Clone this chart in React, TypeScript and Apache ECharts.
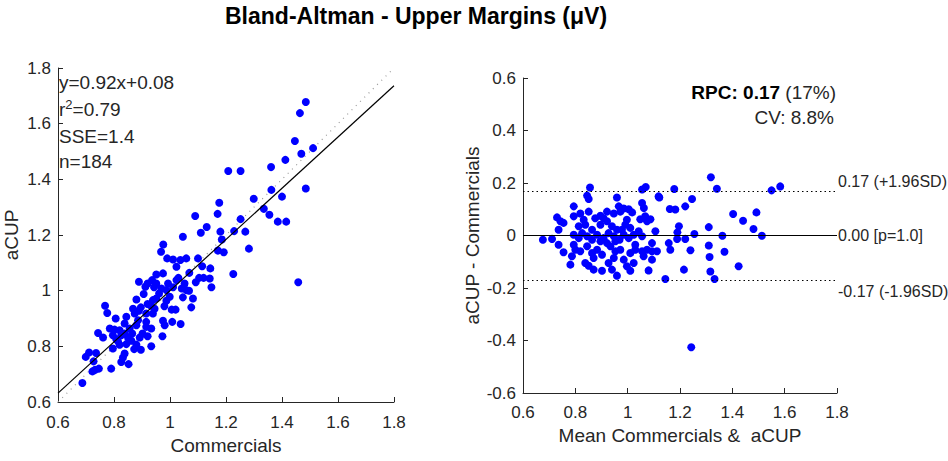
import React, { useEffect, useRef } from "react";
import * as echarts from "echarts";

const FONT = "'Liberation Sans', Arial, sans-serif";
const TXT = "#262626";

// Left panel: Commercials (x) vs aCUP (y)
const corrPoints: [number, number][] = [
  [1.485, 1.678], [1.464, 1.638], [1.446, 1.538], [1.511, 1.512], [1.469, 1.492],
  [1.412, 1.47], [1.361, 1.444], [1.208, 1.43], [1.252, 1.43], [1.362, 1.362],
  [1.485, 1.367], [1.4, 1.338], [1.299, 1.33], [1.335, 1.294], [1.355, 1.273],
  [1.385, 1.248], [1.415, 1.248], [1.176, 1.316], [1.17, 1.276], [1.09, 1.268],
  [1.252, 1.257], [1.131, 1.229], [1.229, 1.214], [1.269, 1.212], [1.11, 1.208],
  [1.18, 1.212], [1.046, 1.194], [1.185, 1.184], [1.282, 1.151], [1.171, 1.144],
  [1.192, 1.138], [0.976, 1.166], [0.968, 1.14], [0.99, 1.116], [1.011, 1.112],
  [1.037, 1.11], [1.058, 1.116], [1.1, 1.116], [1.115, 1.088], [1.023, 1.086],
  [1.144, 1.08], [1.226, 1.06], [1.069, 1.064], [0.975, 1.062], [0.951, 1.058],
  [0.936, 1.038], [1.03, 1.046], [1.104, 1.046], [1.12, 1.046], [1.142, 1.044],
  [0.889, 1.032], [0.92, 1.026], [0.993, 1.026], [1.052, 1.026], [1.092, 1.03],
  [1.148, 1.012], [1.458, 1.03], [0.912, 1.014], [0.943, 1.012], [0.969, 1.008],
  [1.011, 1.012], [1.068, 1.0], [0.961, 0.99], [0.999, 0.978], [1.046, 0.976],
  [1.082, 0.972], [0.88, 0.968], [0.906, 0.988], [1.076, 0.94], [0.98, 0.944],
  [1.006, 0.932], [1.02, 0.932], [0.932, 0.946], [0.768, 0.946], [0.776, 0.92],
  [0.868, 0.935], [0.889, 0.928], [0.874, 0.918], [0.915, 0.918], [0.939, 0.918],
  [0.806, 0.9], [0.844, 0.906], [0.975, 0.892], [1.008, 0.888], [1.038, 0.88],
  [0.838, 0.882], [0.88, 0.876], [0.915, 0.87], [0.933, 0.864], [0.785, 0.864],
  [0.802, 0.86], [0.82, 0.858], [0.981, 0.876], [0.973, 0.836], [0.743, 0.848],
  [0.761, 0.832], [0.796, 0.84], [0.838, 0.846], [0.865, 0.846], [0.902, 0.846],
  [0.892, 0.832], [0.92, 0.836], [0.814, 0.818], [0.862, 0.82], [0.88, 0.806],
  [0.82, 0.806], [0.844, 0.808], [0.933, 0.8], [0.796, 0.792], [0.896, 0.788],
  [0.838, 0.774], [0.711, 0.778], [0.736, 0.776], [0.699, 0.762], [0.832, 0.76],
  [0.727, 0.746], [0.826, 0.744], [0.852, 0.736], [0.723, 0.71], [0.733, 0.716],
  [0.746, 0.72], [0.79, 0.72], [0.687, 0.668], [0.856, 0.864], [0.939, 0.966],
  [0.951, 0.972], [0.92, 0.952], [0.987, 0.964], [0.896, 0.94], [0.886, 0.894],
  [0.808, 0.825], [0.85, 0.832], [0.826, 0.84], [0.872, 0.79], [0.951, 1.026],
  [0.987, 1.002], [1.042, 1.008], [1.023, 1.038], [1.058, 1.002], [0.915, 0.888],
  [0.945, 0.935]
];

// Right panel: mean (x) vs difference (y)
const baPoints: [number, number][] = [
  [1.318, 0.222], [1.341, 0.178], [1.55, 0.172], [1.583, 0.187], [1.178, 0.177],
  [1.069, 0.185], [1.055, 0.175], [0.856, 0.183], [0.845, 0.152], [0.851, 0.139],
  [0.959, 0.145], [1.118, 0.149], [1.121, 0.145], [1.246, 0.139], [0.794, 0.111],
  [1.22, 0.111], [1.161, 0.101], [1.182, 0.099], [1.055, 0.124], [1.062, 0.105],
  [1.403, 0.082], [1.492, 0.088], [0.73, 0.069], [0.743, 0.054], [0.755, 0.048],
  [0.794, 0.073], [0.819, 0.084], [0.851, 0.091], [0.876, 0.066], [0.896, 0.075],
  [0.921, 0.091], [0.947, 0.084], [0.966, 0.111], [0.972, 0.091], [0.985, 0.103],
  [1.004, 0.1], [1.017, 0.088], [1.048, 0.062], [1.067, 0.073], [1.087, 0.062],
  [1.441, 0.056], [1.196, 0.035], [1.31, 0.032], [1.481, 0.025], [0.736, 0.022],
  [0.813, 0.035], [0.838, 0.041], [0.864, 0.022], [0.896, 0.041], [0.921, 0.054],
  [0.94, 0.035], [0.959, 0.022], [0.991, 0.041], [1.01, 0.029], [1.042, 0.016],
  [1.106, 0.016], [0.676, -0.016], [0.711, -0.013], [0.736, -0.035], [0.794, 0.003],
  [0.813, -0.01], [0.826, 0.009], [0.845, -0.003], [0.864, -0.016], [0.883, 0.003],
  [0.908, -0.01], [0.927, 0.009], [0.947, -0.003], [0.969, -0.016], [0.985, 0.003],
  [1.004, -0.01], [1.023, 0.003], [1.055, -0.003], [1.19, 0.012], [1.189, -0.013],
  [1.22, -0.013], [1.255, 0.006], [1.31, -0.038], [1.362, -0.001], [1.513, -0.001],
  [1.157, -0.029], [1.163, -0.054], [1.24, -0.056], [1.37, -0.062], [0.755, -0.064],
  [0.8, -0.054], [0.819, -0.06], [0.845, -0.041], [0.864, -0.067], [0.883, -0.054],
  [0.902, -0.073], [0.934, -0.041], [0.953, -0.06], [0.972, -0.054], [1.01, -0.067],
  [1.029, -0.054], [1.055, -0.06], [1.074, -0.054], [1.093, -0.06], [1.112, -0.06],
  [1.313, -0.082], [0.787, -0.079], [0.781, -0.111], [0.838, -0.105], [0.851, -0.115],
  [0.87, -0.13], [0.902, -0.134], [0.927, -0.105], [0.94, -0.13], [0.959, -0.153],
  [0.997, -0.117], [1.01, -0.134], [1.023, -0.105], [1.061, -0.079], [1.08, -0.133],
  [1.093, -0.092], [1.144, -0.166], [1.215, -0.13], [1.316, -0.137], [1.332, -0.166],
  [1.424, -0.117], [1.243, -0.426], [0.896, -0.022], [0.953, -0.022], [0.832, 0.06],
  [0.908, 0.066], [0.997, 0.06], [0.978, 0.022], [0.794, -0.035], [0.921, -0.029],
  [1.029, -0.035], [1.074, 0.054], [1.093, -0.029], [0.87, -0.086], [0.947, -0.086],
  [0.985, -0.092]
];

const fitSlope = 0.92;
const fitIntercept = 0.08;
const xRange = [0.6, 1.8];
const leftYRange = [0.6, 1.8];
const rightYRange = [-0.6, 0.6];
const limitValues = [0.17, 0, -0.17];
const limitLabels = ["0.17 (+1.96SD)", "0.00 [p=1.0]", "-0.17 (-1.96SD)"];
const limitDotted = [true, false, true];
const statsLines = ["y=0.92x+0.08", "r{sup|2}=0.79", "SSE=1.4", "n=184"];

const axisBase = (min: number, max: number, margin: number) => ({
  type: "value" as const,
  min,
  max,
  interval: 0.2,
  axisLine: { show: true, onZero: false, lineStyle: { color: TXT, width: 1 } },
  axisTick: { show: true, inside: true, length: 5, lineStyle: { color: TXT } },
  axisLabel: {
    color: TXT,
    fontSize: 17,
    fontFamily: FONT,
    margin,
    formatter: (v: number) => String(Math.round(v * 10) / 10),
  },
  splitLine: { show: false },
  nameLocation: "middle" as const,
  nameTextStyle: { color: TXT, fontSize: 19, fontFamily: FONT },
});

export default function App() {
  const ref = useRef<HTMLDivElement>(null);
  useEffect(() => {
    if (!ref.current) return;
    const chart = echarts.init(ref.current, undefined, { renderer: "svg" });
    const fitLine = xRange.map((x) => [x, fitSlope * x + fitIntercept]);
    const identity = xRange.map((x) => [x, x]);
    chart.setOption({
      animation: false,
      backgroundColor: "#ffffff",
      title: {
        text: "Bland-Altman - Upper Margins (μV)",
        left: 225,
        top: 4,
        padding: 0,
        textStyle: { fontSize: 23, fontWeight: "bold", color: "#000", fontFamily: FONT },
      },
      grid: [
        { left: 58, top: 68, width: 336, height: 334 },
        { left: 523, top: 78, width: 314, height: 315 },
      ],
      xAxis: [
        { ...axisBase(xRange[0], xRange[1], 12), gridIndex: 0, name: "Commercials", nameGap: 34 },
        { ...axisBase(xRange[0], xRange[1], 11), gridIndex: 1, name: "Mean Commercials &  aCUP", nameGap: 33 },
      ],
      yAxis: [
        { ...axisBase(leftYRange[0], leftYRange[1], 7), gridIndex: 0, name: "aCUP", nameGap: 37 },
        { ...axisBase(rightYRange[0], rightYRange[1], 7), gridIndex: 1, name: "aCUP - Commercials", nameGap: 41 },
      ],
      graphic: [
        ...statsLines.map((t, i) => ({
          type: "text",
          x: 59,
          y: [82, 109, 136, 161][i],
          style: {
            text: t,
            fill: TXT,
            fontSize: 19,
            fontFamily: FONT,
            verticalAlign: "middle",
            rich: { sup: { fontSize: 13, verticalAlign: "top", padding: [0, 0, 9, 0], fill: TXT, fontFamily: FONT } },
          },
        })),
        {
          type: "text",
          x: 836,
          y: 92,
          style: {
            text: "{b|RPC: 0.17} (17%)",
            fill: TXT,
            fontSize: 19,
            fontFamily: FONT,
            align: "right",
            verticalAlign: "middle",
            rich: { b: { fontWeight: "bold", fontSize: 19, fill: "#000", fontFamily: FONT } },
          },
        },
        {
          type: "text",
          x: 834,
          y: 117,
          style: { text: "CV: 8.8%", fill: TXT, fontSize: 19, fontFamily: FONT, align: "right", verticalAlign: "middle" },
        },
      ],
      series: [
        {
          type: "line",
          xAxisIndex: 0,
          yAxisIndex: 0,
          data: identity,
          symbol: "none",
          lineStyle: { color: "#9a9a9a", width: 1.2, type: [1, 5] },
          silent: true,
          z: 1,
        },
        {
          type: "scatter",
          xAxisIndex: 0,
          yAxisIndex: 0,
          data: corrPoints,
          symbolSize: 8,
          itemStyle: { color: "#0000ff", opacity: 1 },
          z: 2,
        },
        {
          type: "line",
          xAxisIndex: 0,
          yAxisIndex: 0,
          data: fitLine,
          symbol: "none",
          lineStyle: { color: "#000", width: 1.2 },
          silent: true,
          z: 3,
        },
        {
          type: "scatter",
          xAxisIndex: 1,
          yAxisIndex: 1,
          data: baPoints,
          symbolSize: 8,
          itemStyle: { color: "#0000ff", opacity: 1 },
          z: 2,
          markLine: {
            silent: true,
            symbol: "none",
            animation: false,
            data: limitValues.map((v, i) => ({
              yAxis: v,
              lineStyle: { color: "#000", width: 1, type: limitDotted[i] ? [1.5, 3] : "solid" },
              label: {
                show: true,
                position: "end",
                distance: 1,
                formatter: limitLabels[i],
                color: TXT,
                fontSize: 16,
                fontFamily: FONT,
                offset: [0, i === 0 ? -9 : i === 2 ? 11 : 0],
              },
            })),
          },
        },
      ],
    });
    return () => chart.dispose();
  }, []);
  return <div ref={ref} style={{ position: "fixed", left: 0, top: 0, width: 948, height: 461 }} />;
}
